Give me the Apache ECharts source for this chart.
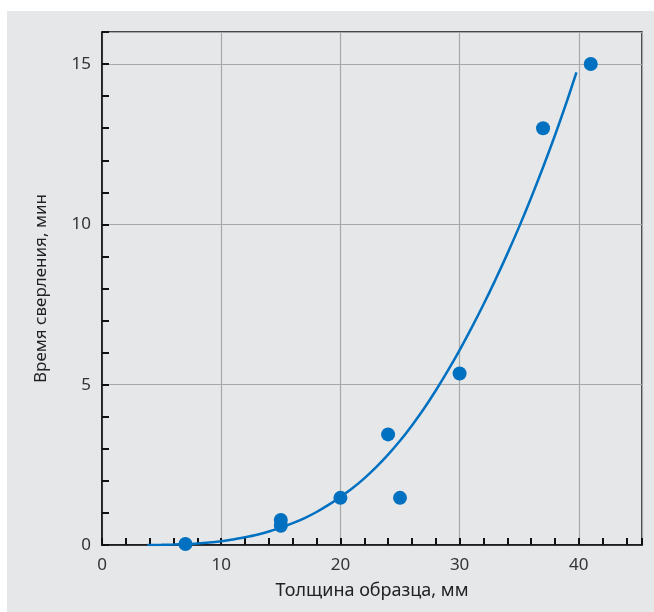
<!DOCTYPE html>
<html>
<head>
<meta charset="utf-8">
<script src="https://cdn.jsdelivr.net/npm/echarts@6/dist/echarts.min.js"></script>
<style>
html,body{margin:0;padding:0;background:#ffffff;width:654px;height:612px;overflow:hidden;}
#chart{position:absolute;left:7px;top:11px;width:647px;height:601px;background:#e6e7e9;}
</style>
</head>
<body>
<div id="chart"></div>
<script>
// Measured points: thickness (mm) vs drilling time (min)
const pointX = [7, 15, 15, 20, 24, 25, 30, 37, 41];
const pointY = [0.03, 0.6, 0.78, 1.47, 3.45, 1.47, 5.35, 13.0, 15.0];
// Fitted curve
const curveX = [3.8, 5, 6, 7, 8, 9, 10, 11, 12, 13, 14, 15, 16, 17, 18, 19, 20, 21, 22, 23, 24, 25, 26, 27, 28, 29, 30, 31, 32, 33, 34, 35, 36, 37, 38, 39, 39.8];
const curveY = [0, 0.005, 0.015, 0.03, 0.05, 0.08, 0.12, 0.17, 0.24, 0.32, 0.42, 0.54, 0.68, 0.84, 1.03, 1.25, 1.5, 1.77, 2.08, 2.43, 2.82, 3.25, 3.73, 4.25, 4.82, 5.43, 6.08, 6.77, 7.5, 8.27, 9.08, 9.93, 10.83, 11.78, 12.78, 13.84, 14.74];
const xTickLabels = [0, 10, 20, 30, 40];
const yTickLabels = [0, 5, 10, 15];
const xName = 'Толщина образца, мм';
const yName = 'Время сверления, мин';

const chart = echarts.init(document.getElementById('chart'));
const font = 'Noto Sans';
const labelStyle = {color: '#333', fontSize: 17, fontFamily: font};
const option = {
  animation: false,
  grid: {left: 95, top: 21, right: 12, bottom: 67, show: true, borderColor: '#111', borderWidth: 1.5, backgroundColor: 'transparent'},
  xAxis: [
    {
      type: 'value', min: 0, max: 45.3, interval: 10,
      name: xName, nameLocation: 'middle', nameGap: 37,
      nameTextStyle: {color: '#222', fontSize: 18, fontFamily: font},
      axisLine: {show: true, lineStyle: {color: '#111', width: 1.5}},
      axisTick: {show: false},
      axisLabel: Object.assign({margin: 12, formatter: v => xTickLabels.includes(v) ? String(v) : ''}, labelStyle),
      splitLine: {show: true, lineStyle: {color: '#a8a8a8', width: 1.2}}
    },
    {
      type: 'value', min: 0, max: 45.3, interval: 2, position: 'bottom',
      axisLine: {show: false},
      axisTick: {show: true, inside: true, length: 7, lineStyle: {color: '#111', width: 2}},
      axisLabel: {show: false},
      splitLine: {show: false}
    }
  ],
  yAxis: [
    {
      type: 'value', min: 0, max: 16, interval: 5,
      name: yName, nameLocation: 'middle', nameGap: 52,
      nameTextStyle: {color: '#222', fontSize: 17, fontFamily: font},
      axisLine: {show: true, lineStyle: {color: '#111', width: 1.5}},
      axisTick: {show: false},
      axisLabel: Object.assign({margin: 11, formatter: v => yTickLabels.includes(v) ? String(v) : ''}, labelStyle),
      splitLine: {show: true, lineStyle: {color: '#a8a8a8', width: 1.2}}
    },
    {
      type: 'value', min: 0, max: 16, interval: 1, position: 'left',
      axisLine: {show: false},
      axisTick: {show: true, inside: true, length: 7, lineStyle: {color: '#111', width: 2}},
      axisLabel: {show: false},
      splitLine: {show: false}
    }
  ],
  series: [
    {
      type: 'line', xAxisIndex: 0, yAxisIndex: 0,
      data: curveX.map((x, i) => [x, curveY[i]]),
      smooth: 0.3, showSymbol: false,
      lineStyle: {color: '#0070c0', width: 2.5}
    },
    {
      type: 'scatter', xAxisIndex: 0, yAxisIndex: 0,
      data: pointX.map((x, i) => [x, pointY[i]]),
      symbolSize: 14,
      itemStyle: {color: '#0070c0', opacity: 1}
    }
  ]
};
chart.setOption(option);
</script>
</body>
</html>
